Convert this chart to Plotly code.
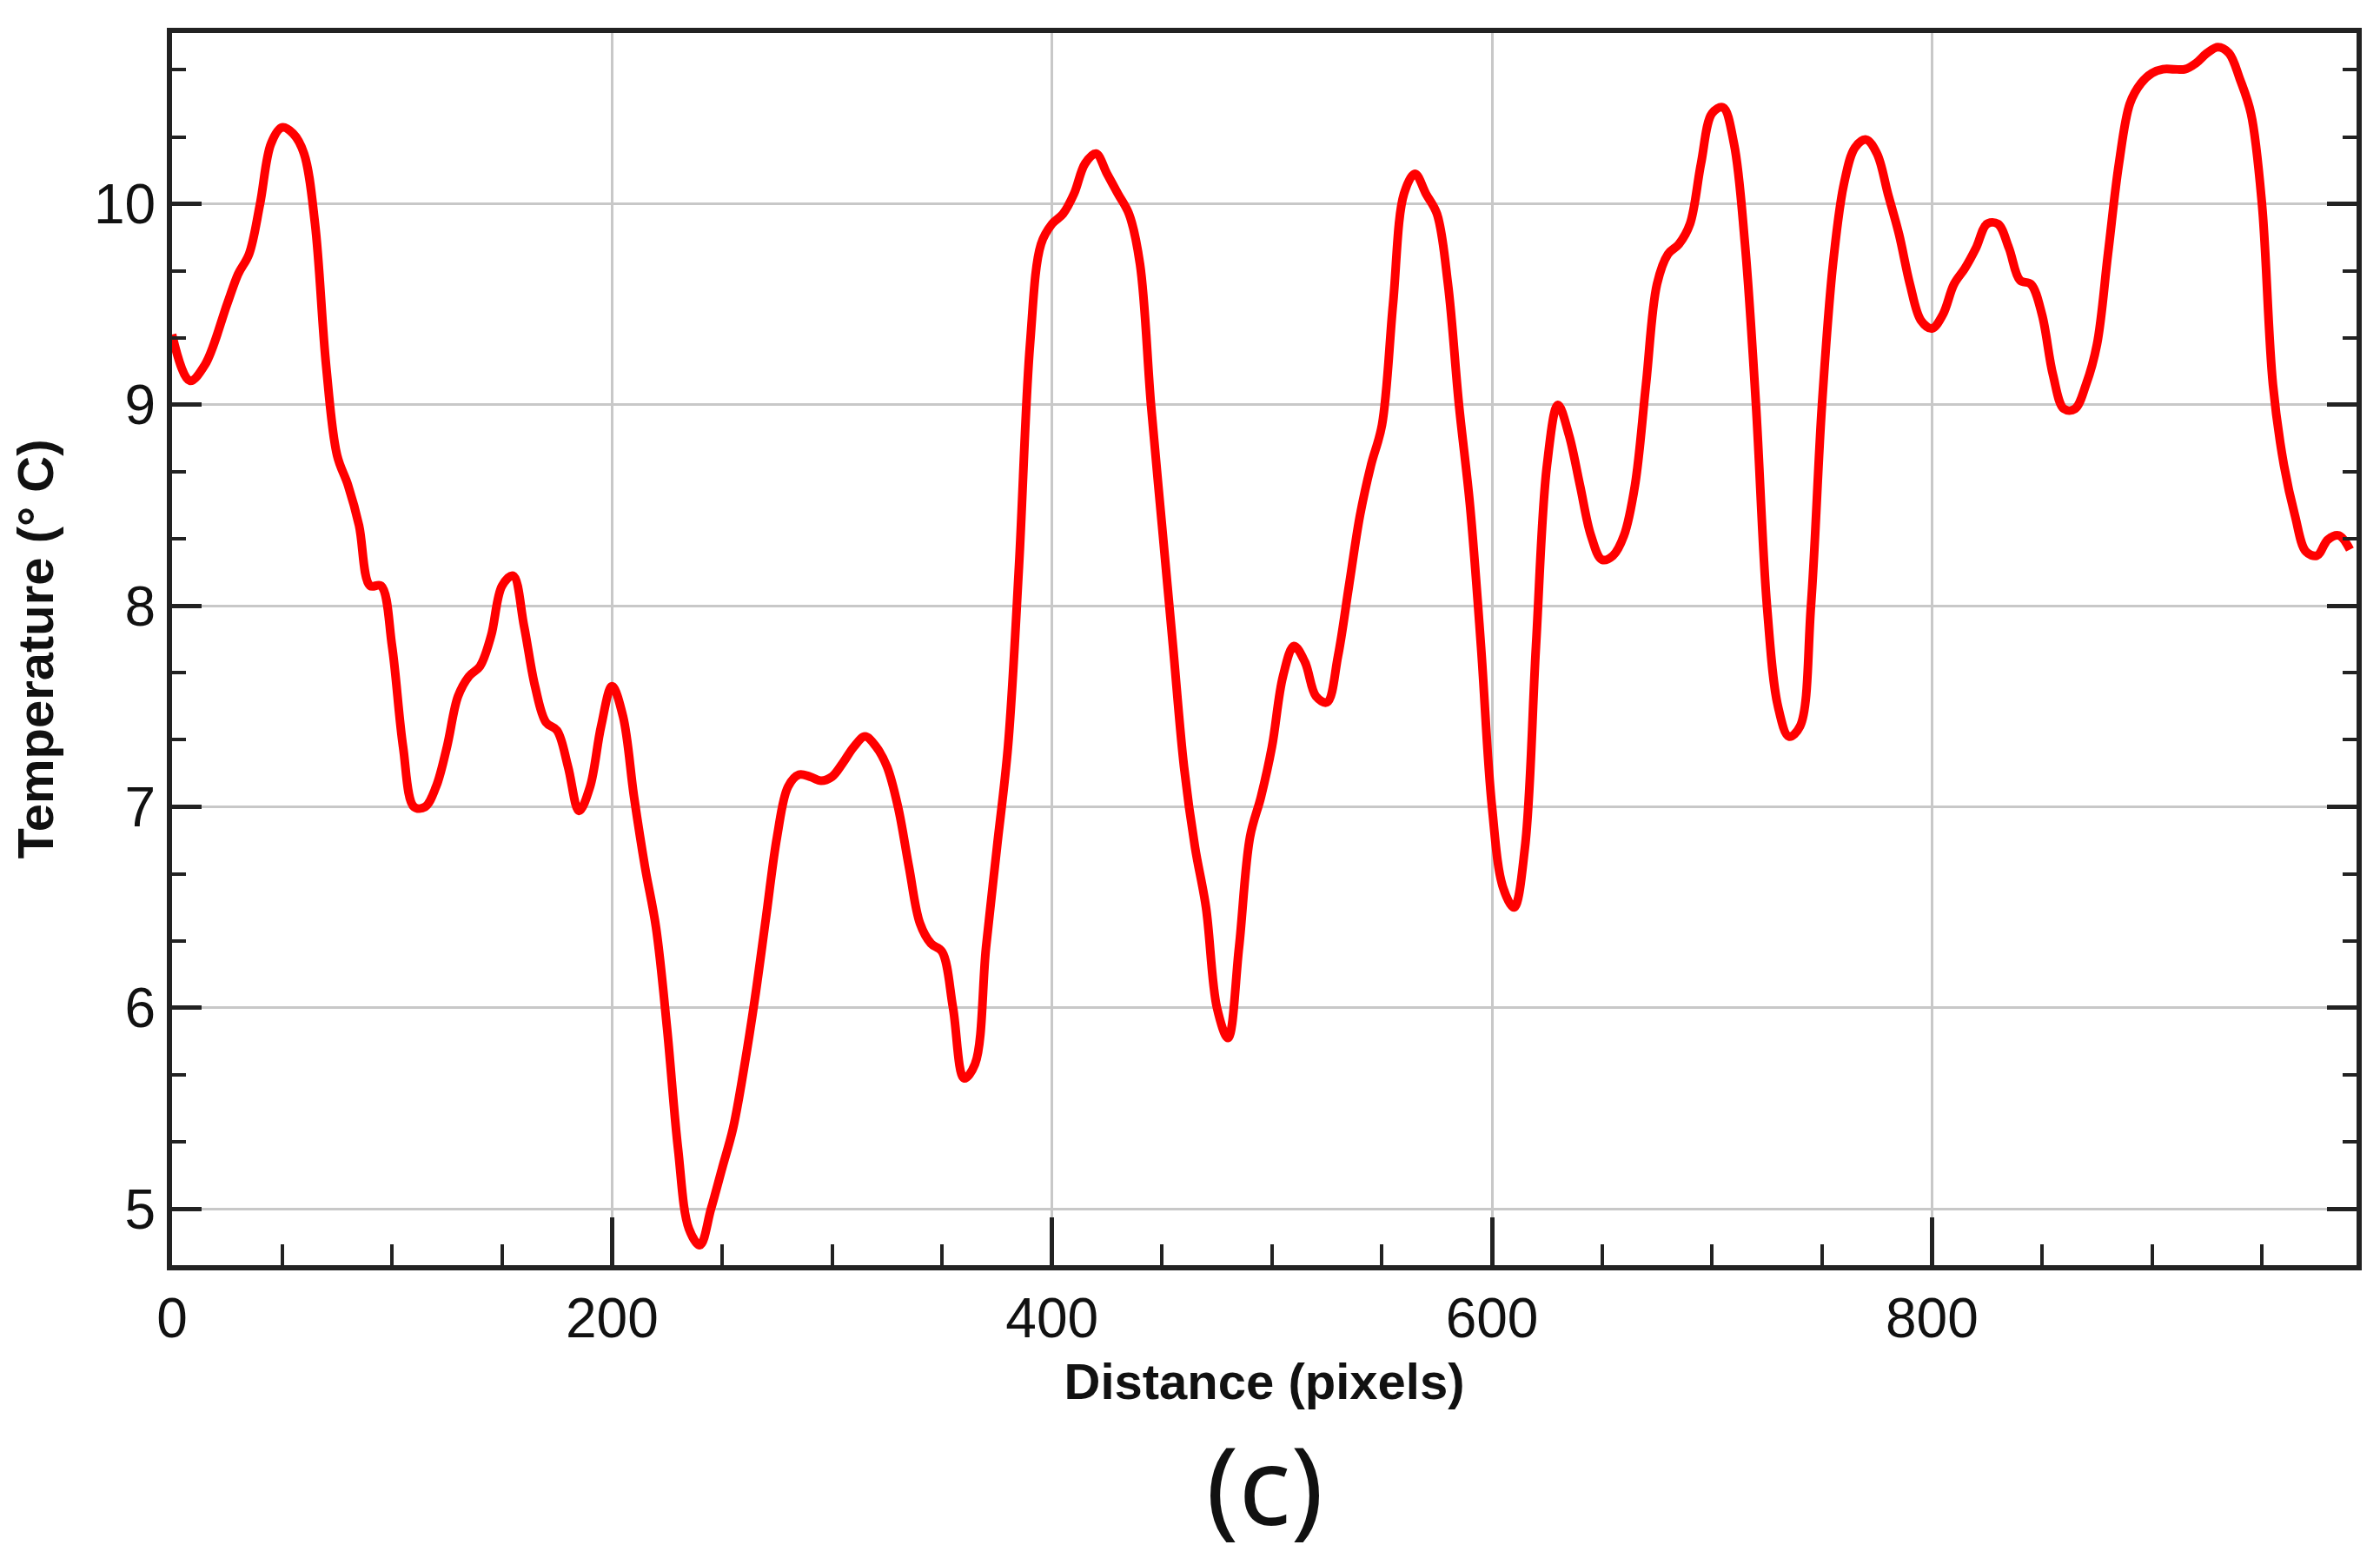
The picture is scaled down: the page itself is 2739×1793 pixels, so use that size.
import plotly.graph_objects as go

distance = [0,8,15,25,30,35,40,45,50,55,60,65,70,75,80,85,90,95,100,105,110,115,120,125,130,135,140,145,150,155,160,165,170,175,180,185,190,195,200,205,210,215,220,225,230,235,240,245,250,255,260,265,270,275,280,285,290,295,300,305,310,315,320,325,330,335,340,345,350,355,360,365,370,375,380,385,390,395,400,405,410,415,420,425,430,435,440,445,450,455,460,465,470,475,480,485,490,495,500,505,510,515,520,525,530,535,540,545,550,555,560,565,570,575,580,585,590,595,600,605,610,615,620,625,630,635,640,645,650,655,660,665,670,675,680,685,690,695,700,705,710,715,720,725,730,735,740,745,750,755,760,765,770,775,780,785,790,795,800,805,810,815,820,825,830,835,840,845,850,855,860,865,870,875,880,885,890,895,900,905,910,915,920,925,930,935,940,945,950,955,960,965,970,975,980,985,990]
temperature = [9.35,9.12,9.2,9.5,9.65,9.75,10.0,10.3,10.38,10.35,10.25,9.9,9.2,8.75,8.6,8.4,8.1,8.1,7.8,7.3,7.0,7.0,7.1,7.3,7.55,7.65,7.7,7.85,8.1,8.15,7.9,7.6,7.42,7.38,7.2,6.98,7.1,7.4,7.6,7.45,7.05,6.7,6.4,5.9,5.3,4.9,4.82,5.0,5.2,5.4,5.7,6.05,6.45,6.85,7.1,7.16,7.15,7.13,7.15,7.22,7.3,7.35,7.3,7.2,7.0,6.7,6.42,6.32,6.28,6.0,5.65,5.72,6.3,6.8,7.3,8.2,9.3,9.8,9.9,9.95,10.05,10.2,10.25,10.15,10.05,9.95,9.7,9.0,8.4,7.8,7.2,6.8,6.5,6.0,5.85,6.3,6.85,7.05,7.3,7.65,7.8,7.72,7.55,7.52,7.75,8.1,8.45,8.7,8.9,9.5,10.05,10.15,10.05,9.95,9.6,9.0,8.5,7.8,7.0,6.6,6.5,6.8,7.8,8.7,9.0,8.85,8.6,8.35,8.23,8.25,8.35,8.6,9.1,9.6,9.75,9.8,9.9,10.2,10.45,10.48,10.3,9.8,9.0,8.0,7.5,7.35,7.4,8.0,9.0,9.7,10.1,10.28,10.32,10.25,10.05,9.85,9.6,9.42,9.38,9.45,9.6,9.68,9.78,9.9,9.9,9.78,9.62,9.6,9.45,9.15,8.98,8.98,9.1,9.3,9.75,10.2,10.5,10.6,10.65,10.67,10.67,10.67,10.7,10.75,10.78,10.75,10.62,10.45,10.0,9.1,8.7,8.45,8.27,8.25,8.33,8.35,8.28]

fig = go.Figure(go.Scatter(x=distance, y=temperature, mode="lines",
                           line=dict(color="#ff0000", width=10, shape="spline", smoothing=1.0)))

font = "Liberation Sans, Arial, sans-serif"
axcommon = dict(showline=True, linecolor="#222", linewidth=6,
                ticks="inside", tickcolor="#222", tickwidth=5,
                showgrid=True, gridcolor="#c8c8c8", gridwidth=3, zeroline=False,
                tickfont=dict(family=font, size=64, color="#111"))
fig.update_xaxes(range=[0, 993], dtick=200, ticklen=55, mirror=True,
                 minor=dict(dtick=50, ticks="inside", ticklen=24, tickwidth=4, tickcolor="#222", showgrid=False),
                 title=dict(text="<b>Distance (pixels)</b>", font=dict(family=font, size=58, color="#111"), standoff=20),
                 **axcommon)
fig.update_yaxes(range=[4.72, 10.85], dtick=1, ticklen=34, mirror="allticks",
                 minor=dict(dtick=1/3, ticks="inside", ticklen=16, tickwidth=4, tickcolor="#222", showgrid=False),
                 title=dict(text="<b>Temperature (° C)</b>", font=dict(family=font, size=58, color="#111"), standoff=30),
                 **axcommon)
fig.add_annotation(text="(c)", xref="paper", yref="paper", x=0.5, y=-0.115, yanchor="top",
                   showarrow=False, font=dict(family="Noto Sans", size=125, color="#111"))
fig.update_layout(width=2739, height=1793, plot_bgcolor="white", paper_bgcolor="white",
                  margin=dict(l=190, r=35, t=30, b=345), showlegend=False)
fig.write_html("out.html")
